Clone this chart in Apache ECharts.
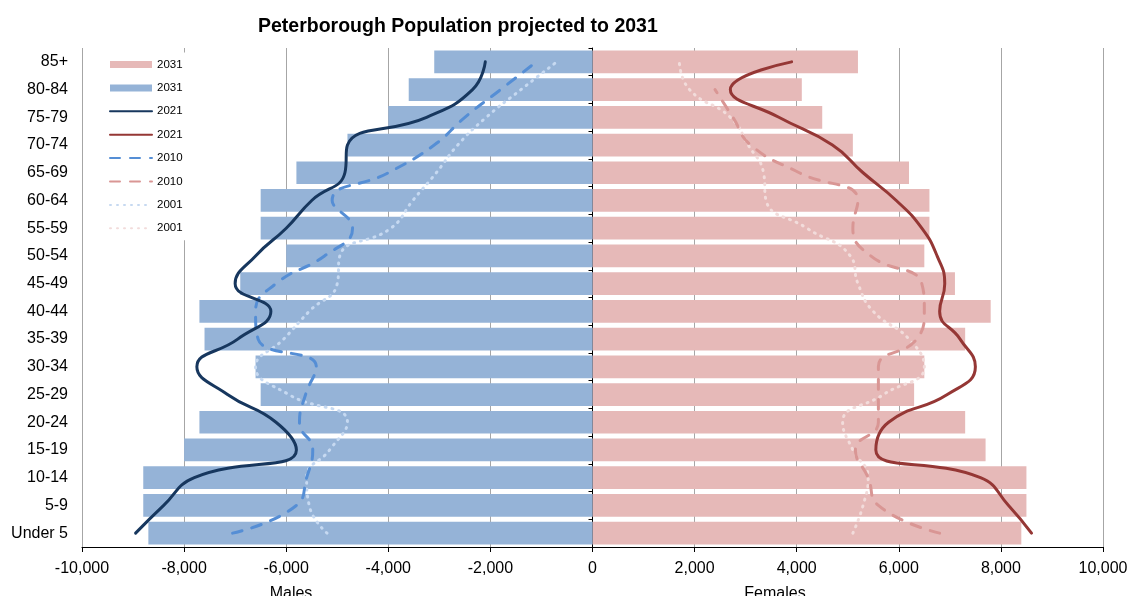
<!DOCTYPE html>
<html>
<head>
<meta charset="utf-8">
<script src="https://cdn.jsdelivr.net/npm/echarts@6/dist/echarts.min.js"></script>
<style>
  html, body { margin: 0; padding: 0; background: #fff; }
  #chart { width: 1133px; height: 596px; }
</style>
</head>
<body>
<div id="chart"></div>
<script>
// Age bands, youngest at the bottom of the pyramid
const categories = ['Under 5', '5-9', '10-14', '15-19', '20-24', '25-29', '30-34', '35-39',
  '40-44', '45-49', '50-54', '55-59', '60-64', '65-69', '70-74', '75-79', '80-84', '85+'];

// Population counts: males negative (left), females positive (right)
const male2031 = [-8700, -8800, -8800, -8000, -7700, -6500, -6600, -7600, -7700, -6900, -6000, -6500, -6500, -5800, -4800, -4000, -3600, -3100];
const female2031 = [8400, 8500, 8500, 7700, 7300, 6300, 6500, 7300, 7800, 7100, 6500, 6600, 6600, 6200, 5100, 4500, 4100, 5200];
const male2021 = [-8950, -8400, -7800, -5800, -6200, -7150, -7750, -6950, -6300, -7000, -6600, -6000, -5500, -4850, -4800, -3250, -2350, -2100];
const female2021 = [8600, 8150, 7600, 5550, 5800, 6950, 7500, 7200, 6800, 6900, 6750, 6450, 5950, 5300, 4700, 3650, 2700, 3900];
const male2010 = [-7050, -5800, -5600, -5480, -5740, -5620, -5410, -6550, -6600, -6200, -5250, -4700, -5100, -4000, -3100, -2500, -1800, -1100];
const female2010 = [6800, 5600, 5400, 5150, 5600, 5600, 5600, 6350, 6500, 6450, 5450, 5100, 5200, 4050, 3100, 2750, 2400, null];
const male2001 = [-5200, -5550, -5600, -5150, -4800, -5950, -6600, -6050, -5550, -5000, -4950, -3950, -3520, -3060, -2640, -2080, -1400, -700];
const female2001 = [5100, 5300, 5400, 5100, 4900, 5700, 6500, 6200, 5500, 5200, 5050, 4200, 3400, 3350, 3050, 2700, 1900, 1700];

const titleText = 'Peterborough Population projected to 2031';
const xTitleMale = 'Males';
const xTitleFemale = 'Females';

const FONT = '"Liberation Sans", Arial, sans-serif';

const chart = echarts.init(document.getElementById('chart'), null, { renderer: 'canvas' });

function lineSeries(name, data, color, type) {
  return {
    name: name,
    type: 'line',
    data: data,
    smooth: 0.5,
    symbol: 'none',
    connectNulls: false,
    lineStyle: { color: color, width: 3, type: type || 'solid', cap: 'round', join: 'round' },
    itemStyle: { color: color },
    emphasis: { disabled: true },
    z: 5
  };
}

const hiddenSymbol = { color: 'rgba(0,0,0,0)', borderWidth: 0 };

const option = {
  animation: false,
  backgroundColor: '#ffffff',
  grid: { left: 82, right: 30, top: 48, bottom: 49, containLabel: false },
  graphic: [
    { type: 'text', left: 258, top: 17,
      style: { text: titleText, font: 'bold 19.5px ' + FONT, fill: '#000' } },
    { type: 'text', x: 291, y: 586,
      style: { text: xTitleMale, font: '16px ' + FONT, fill: '#000', textAlign: 'center', textVerticalAlign: 'top' } },
    { type: 'text', x: 775, y: 586,
      style: { text: xTitleFemale, font: '16px ' + FONT, fill: '#000', textAlign: 'center', textVerticalAlign: 'top' } }
  ],
  legend: {
    orient: 'vertical',
    left: 104,
    top: 52.5,
    padding: [5, 6, 5, 5],
    backgroundColor: '#ffffff',
    itemWidth: 42,
    itemHeight: 7,
    itemGap: 9.4,
    selectedMode: false,
    formatter: function (n) { return n.slice(1); },
    textStyle: { fontFamily: FONT, fontSize: 11.5, lineHeight: 14, color: '#000' },
    data: [
      { name: 'F2031', icon: 'rect' },
      { name: 'M2031', icon: 'rect' },
      { name: 'M2021', itemStyle: hiddenSymbol },
      { name: 'F2021', itemStyle: hiddenSymbol },
      { name: 'M2010', itemStyle: hiddenSymbol },
      { name: 'F2010', itemStyle: hiddenSymbol },
      { name: 'M2001', itemStyle: hiddenSymbol },
      { name: 'F2001', itemStyle: hiddenSymbol }
    ]
  },
  xAxis: {
    type: 'value',
    min: -10000,
    max: 10000,
    interval: 2000,
    axisLine: { show: true, lineStyle: { color: '#000', width: 1 } },
    axisTick: { show: true, length: 5, lineStyle: { color: '#000' } },
    axisLabel: {
      margin: 14,
      fontFamily: FONT,
      fontSize: 16,
      color: '#000',
      formatter: function (v) { return v.toLocaleString('en-US'); }
    },
    splitLine: { show: true, lineStyle: { color: '#a6a6a6', width: 1 } }
  },
  yAxis: [
    {
      type: 'category',
      data: categories,
      position: 'left',
      axisLine: { show: false, onZero: false },
      axisTick: { show: false },
      axisLabel: { margin: 14, fontFamily: FONT, fontSize: 16, color: '#000' },
      splitLine: { show: false }
    },
    {
      type: 'category',
      data: categories,
      position: 'left',
      axisLine: { show: true, onZero: true, lineStyle: { color: '#000', width: 1 } },
      axisTick: { show: true, length: 4, lineStyle: { color: '#000' } },
      axisLabel: { show: false },
      splitLine: { show: false }
    }
  ],
  series: [
    {
      name: 'F2031', type: 'bar', data: female2031, barWidth: '82%', barGap: '-100%',
      itemStyle: { color: '#e6b9b8' }, emphasis: { disabled: true }, z: 2
    },
    {
      name: 'M2031', type: 'bar', data: male2031, barWidth: '82%', barGap: '-100%',
      itemStyle: { color: '#95b3d7' }, emphasis: { disabled: true }, z: 2
    },
    lineSeries('M2001', male2001, '#c6d9f1', [1, 6]),
    lineSeries('F2001', female2001, '#f2dcdb', [1, 6]),
    lineSeries('M2010', male2010, '#558ed5', [10, 10]),
    lineSeries('F2010', female2010, '#d99694', [10, 10]),
    lineSeries('M2021', male2021, '#17375e'),
    lineSeries('F2021', female2021, '#953735')
  ]
};

chart.setOption(option);
</script>
</body>
</html>
